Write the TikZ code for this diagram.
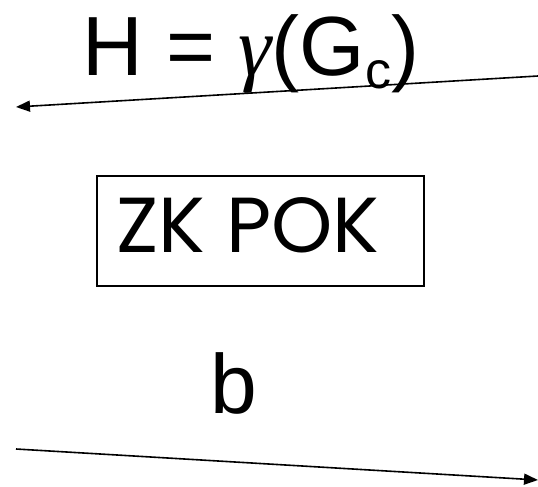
\documentclass[tikz,border=0pt]{standalone}
\usepackage{fontspec}
\setmainfont{Liberation Sans}
\newfontfamily\grk{Liberation Serif}
\newfontfamily\comic{Poppins}
\usetikzlibrary{arrows.meta}
\begin{document}
\begin{tikzpicture}[x=1pt,y=-1pt,
  msg/.style={line width=1.6pt,-{Triangle[length=14pt,width=11pt]}},
  lbl/.style={inner sep=0pt,font=\fontsize{84}{84}\selectfont}]
\useasboundingbox (0,0) rectangle (538,487);
\coordinate (t1) at (538,76);
\coordinate (t2) at (16,107);
\coordinate (b1) at (16,449);
\coordinate (b2) at (538,480);
\draw[msg] (t1) -- (t2);
\draw[msg] (b1) -- (b2);
\node[lbl,anchor=base west] (h) at (82,76) {H = {\grk\itshape γ}(G\raisebox{-0.15em}{\fontsize{52}{52}\selectfont c})};
\node[draw,line width=1.1pt,minimum width=327pt,minimum height=110pt,inner sep=0pt] (zk) at (260.5,231) {};
\node[inner sep=0pt,anchor=base,font=\comic\fontsize{78}{78}\selectfont] (zkt) at (248,252) {ZK POK};
\node[lbl,anchor=base west] (b) at (210,413) {b};
\end{tikzpicture}
\end{document}
